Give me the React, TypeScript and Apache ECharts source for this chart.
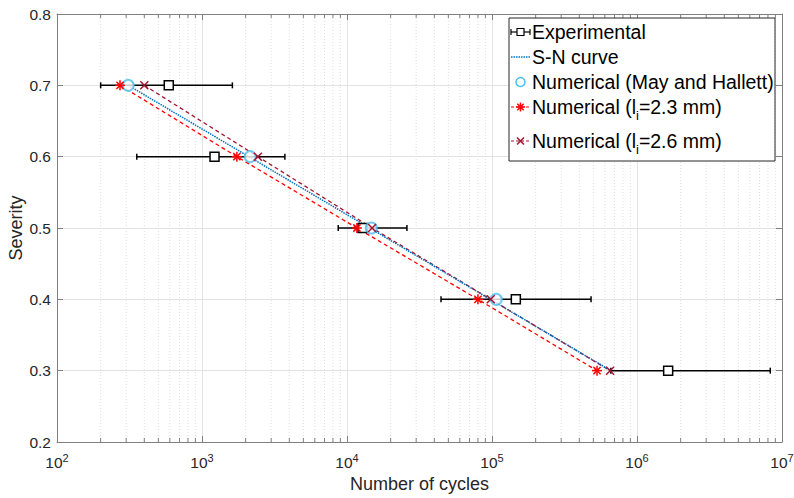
import React, { useEffect, useRef } from "react";
import * as echarts from "echarts";

// ---- data ----
const severity = [0.7, 0.6, 0.5, 0.4, 0.3];
const expMean = [590, 1220, 12800, 146000, 1640000];
const expLow = [200, 355, 8700, 44500, 660000];
const expHigh = [1620, 3730, 25900, 482000, 8300000];
const mayHallett = [310, 2150, 14700, 107000];
const mayHallettSev = [0.7, 0.6, 0.5, 0.4];
const snCurveN = [310, 660000];
const snCurveSev = [0.7, 0.3];
const num23 = [272, 1740, 11700, 80000, 530000];
const num26 = [400, 2430, 14900, 98000, 652000];
const minorX = (() => {
  const out: number[] = [];
  for (let d = 2; d < 7; d++) for (let k = 2; k <= 9; k++) out.push(k * Math.pow(10, d));
  return out;
})();

const FONT = "Liberation Sans, Arial, Helvetica, sans-serif";

export default function App() {
  const ref = useRef<HTMLDivElement>(null);
  useEffect(() => {
    document.body.style.margin = "0";
    const chart = echarts.init(ref.current!, null, { renderer: "svg" });
    const X0 = 100, X1 = 1e7, Y0 = 0.2, Y1 = 0.8;
    const axisColor = "#808080";
    const labelColor = "#262626";

    const minorSeries = {
      type: "custom",
      silent: true,
      z: 1,
      data: minorX.map((v) => [v]),
      renderItem: (params: any, api: any) => {
        const v = api.value(0);
        const b = api.coord([v, Y0]);
        const t = api.coord([v, Y1]);
        return {
          type: "group",
          children: [
            { type: "line", shape: { x1: b[0], y1: b[1], x2: t[0], y2: t[1] }, style: { stroke: "#e0e0e0", lineWidth: 1, lineDash: [1, 2] } },
            { type: "line", shape: { x1: b[0], y1: b[1], x2: b[0], y2: b[1] - 4 }, style: { stroke: axisColor, lineWidth: 1 } },
            { type: "line", shape: { x1: t[0], y1: t[1], x2: t[0], y2: t[1] + 4 }, style: { stroke: axisColor, lineWidth: 1 } },
          ],
        };
      },
    };

    const errSeries = {
      type: "custom",
      z: 5,
      data: severity.map((s, i) => [expLow[i], expHigh[i], s, expMean[i]]),
      renderItem: (params: any, api: any) => {
        const y = api.value(2);
        const p1 = api.coord([api.value(0), y]);
        const p2 = api.coord([api.value(1), y]);
        const pm = api.coord([api.value(3), y]);
        const st = { stroke: "#000", lineWidth: 1.5 };
        const h = 4.5;
        return {
          type: "group",
          children: [
            { type: "line", shape: { x1: p1[0], y1: p1[1], x2: p2[0], y2: p2[1] }, style: st },
            { type: "line", shape: { x1: p1[0], y1: p1[1] - 3, x2: p1[0], y2: p1[1] + 3 }, style: st },
            { type: "line", shape: { x1: p2[0], y1: p2[1] - 3, x2: p2[0], y2: p2[1] + 3 }, style: st },
            { type: "rect", shape: { x: pm[0] - h, y: pm[1] - h, width: 2 * h, height: 2 * h }, style: { fill: "#fff", stroke: "#000", lineWidth: 1.5 } },
          ],
        };
      },
    };

    const starSeries = {
      type: "custom",
      z: 6,
      data: num23.map((n, i) => [n, severity[i]]),
      renderItem: (params: any, api: any) => {
        const p = api.coord([api.value(0), api.value(1)]);
        const r = 5;
        const d = r * 0.72;
        const st = { stroke: "#ff0000", lineWidth: 1.5 };
        return {
          type: "group",
          children: [
            { type: "line", shape: { x1: p[0] - r, y1: p[1], x2: p[0] + r, y2: p[1] }, style: st },
            { type: "line", shape: { x1: p[0], y1: p[1] - r, x2: p[0], y2: p[1] + r }, style: st },
            { type: "line", shape: { x1: p[0] - d, y1: p[1] - d, x2: p[0] + d, y2: p[1] + d }, style: st },
            { type: "line", shape: { x1: p[0] - d, y1: p[1] + d, x2: p[0] + d, y2: p[1] - d }, style: st },
          ],
        };
      },
    };

    const crossSeries = {
      type: "custom",
      z: 6,
      data: num26.map((n, i) => [n, severity[i]]),
      renderItem: (params: any, api: any) => {
        const p = api.coord([api.value(0), api.value(1)]);
        const d = 4;
        const st = { stroke: "#A2142F", lineWidth: 1.5 };
        return {
          type: "group",
          children: [
            { type: "line", shape: { x1: p[0] - d, y1: p[1] - d, x2: p[0] + d, y2: p[1] + d }, style: st },
            { type: "line", shape: { x1: p[0] - d, y1: p[1] + d, x2: p[0] + d, y2: p[1] - d }, style: st },
          ],
        };
      },
    };

    // legend (drawn with graphic)
    const LX = 509, LY = 18, LW = 266, LH = 143;
    const rows = [32, 57, 82, 107, 141];
    const tx = 532;
    const sx0 = 511, sx1 = 530, sxm = 520.5;
    const LF = 19.5;
    const textStyle = (text: string, y: number) => ({
      type: "text",
      x: tx,
      y,
      style: {
        text,
        font: `${LF}px ${FONT}`,
        fill: "#000",
        verticalAlign: "middle",
        rich: {
          sub: { fontSize: 13, fontFamily: FONT, fill: "#000", padding: [16, 0, 0, 0] },
        },
      },
      z: 101,
    });
    const legend: any[] = [
      { type: "rect", shape: { x: LX, y: LY, width: LW, height: LH }, style: { fill: "#fff", stroke: "#262626", lineWidth: 1 }, z: 100 },
      // experimental
      { type: "line", shape: { x1: sx0, y1: rows[0], x2: sx1, y2: rows[0] }, style: { stroke: "#000", lineWidth: 1.2 }, z: 101 },
      { type: "line", shape: { x1: sx0, y1: rows[0] - 3, x2: sx0, y2: rows[0] + 3 }, style: { stroke: "#000", lineWidth: 1.2 }, z: 101 },
      { type: "line", shape: { x1: sx1, y1: rows[0] - 3, x2: sx1, y2: rows[0] + 3 }, style: { stroke: "#000", lineWidth: 1.2 }, z: 101 },
      { type: "rect", shape: { x: sxm - 3.5, y: rows[0] - 3.5, width: 7, height: 7 }, style: { fill: "#fff", stroke: "#000", lineWidth: 1.2 }, z: 101 },
      textStyle("Experimental", rows[0]),
      // S-N
      { type: "line", shape: { x1: sx0, y1: rows[1], x2: sx1, y2: rows[1] }, style: { stroke: "#0072BD", lineWidth: 1.5, lineDash: [1.5, 1] }, z: 101 },
      textStyle("S-N curve", rows[1]),
      // may hallett
      { type: "circle", shape: { cx: sxm, cy: rows[2], r: 4.5 }, style: { fill: "none", stroke: "#4DBEEE", lineWidth: 1.5 }, z: 101 },
      textStyle("Numerical (May and Hallett)", rows[2]),
      // 2.3
      { type: "line", shape: { x1: sx0, y1: rows[3], x2: sx1, y2: rows[3] }, style: { stroke: "#ff0000", lineWidth: 1.2, lineDash: [3, 2] }, z: 101 },
      ...[0, 45, 90, 135].map((a) => {
        const r = 4.5;
        const c = Math.cos((a * Math.PI) / 180), s = Math.sin((a * Math.PI) / 180);
        return { type: "line", shape: { x1: sxm - r * c, y1: rows[3] - r * s, x2: sxm + r * c, y2: rows[3] + r * s }, style: { stroke: "#ff0000", lineWidth: 1.5 }, z: 102 };
      }),
      textStyle("Numerical (l{sub|i}=2.3 mm)", rows[3]),
      // 2.6
      { type: "line", shape: { x1: sx0, y1: rows[4], x2: sx1, y2: rows[4] }, style: { stroke: "#A2142F", lineWidth: 1.2, lineDash: [3, 2] }, z: 101 },
      { type: "line", shape: { x1: sxm - 3.5, y1: rows[4] - 3.5, x2: sxm + 3.5, y2: rows[4] + 3.5 }, style: { stroke: "#A2142F", lineWidth: 1.5 }, z: 102 },
      { type: "line", shape: { x1: sxm - 3.5, y1: rows[4] + 3.5, x2: sxm + 3.5, y2: rows[4] - 3.5 }, style: { stroke: "#A2142F", lineWidth: 1.5 }, z: 102 },
      textStyle("Numerical (l{sub|i}=2.6 mm)", rows[4]),
    ];

    const xLabel = {
      color: labelColor,
      fontFamily: FONT,
      fontSize: 15.5,
      margin: 10,
      formatter: (v: number) => `10{sup|${Math.round(Math.log10(v))}}`,
      rich: { sup: { fontSize: 11, fontFamily: FONT, color: labelColor, padding: [0, 0, 10, 0] } },
    };

    chart.setOption({
      animation: false,
      textStyle: { fontFamily: FONT },
      grid: { left: 57, right: 12, top: 14, bottom: 56, containLabel: false, outerBoundsMode: "none" },
      xAxis: [
        {
          type: "log", logBase: 10, min: X0, max: X1, position: "bottom",
          name: "Number of cycles", nameLocation: "middle", nameGap: 33, nameMoveOverlap: false,
          nameTextStyle: { color: labelColor, fontSize: 18, fontFamily: FONT },
          axisLine: { lineStyle: { color: axisColor, width: 1 } },
          axisTick: { inside: true, length: 6, lineStyle: { color: axisColor } },
          axisLabel: xLabel,
          splitLine: { show: true, lineStyle: { color: "#e3e3e3", width: 1 } },
        },
        {
          type: "log", logBase: 10, min: X0, max: X1, position: "top",
          axisLine: { lineStyle: { color: axisColor, width: 1 } },
          axisTick: { inside: true, length: 6, lineStyle: { color: axisColor } },
          axisLabel: { show: false },
          splitLine: { show: false },
        },
      ],
      yAxis: [
        {
          type: "value", min: Y0, max: Y1, interval: 0.1, position: "left",
          name: "Severity", nameLocation: "middle", nameGap: 32, nameMoveOverlap: false,
          nameTextStyle: { color: labelColor, fontSize: 18, fontFamily: FONT },
          axisLine: { show: true, lineStyle: { color: axisColor, width: 1 } },
          axisTick: { show: true, inside: true, length: 6, lineStyle: { color: axisColor } },
          axisLabel: { color: labelColor, fontSize: 15.5, fontFamily: FONT, margin: 6, formatter: (v: number) => v.toFixed(1) },
          splitLine: { show: true, lineStyle: { color: "#e3e3e3", width: 1 } },
        },
        {
          type: "value", min: Y0, max: Y1, interval: 0.1, position: "right",
          axisLine: { show: true, lineStyle: { color: axisColor, width: 1 } },
          axisTick: { show: true, inside: true, length: 6, lineStyle: { color: axisColor } },
          axisLabel: { show: false },
          splitLine: { show: false },
        },
      ],
      series: [
        minorSeries,
        {
          type: "line", name: "Numerical (li=2.3 mm)", symbol: "none", z: 3,
          data: num23.map((n, i) => [n, severity[i]]),
          lineStyle: { color: "#ff0000", width: 1.3, type: [4, 3] },
        },
        {
          type: "line", name: "Numerical (li=2.6 mm)", symbol: "none", z: 3,
          data: num26.map((n, i) => [n, severity[i]]),
          lineStyle: { color: "#A2142F", width: 1.3, type: [4, 3] },
        },
        {
          type: "line", name: "S-N curve", symbol: "none", z: 4,
          data: snCurveN.map((n, i) => [n, snCurveSev[i]]),
          lineStyle: { color: "#0072BD", width: 1.5, type: [1.5, 1] },
        },
        errSeries,
        {
          type: "scatter", name: "Numerical (May and Hallett)", z: 5,
          symbol: "emptyCircle", symbolSize: 11,
          data: mayHallett.map((n, i) => [n, mayHallettSev[i]]),
          itemStyle: { color: "#4DBEEE", borderColor: "#4DBEEE", borderWidth: 1.5 },
        },
        starSeries,
        crossSeries,
      ],
      graphic: legend,
    });
    return () => chart.dispose();
  }, []);
  return <div ref={ref} style={{ width: 794, height: 498 }} />;
}
